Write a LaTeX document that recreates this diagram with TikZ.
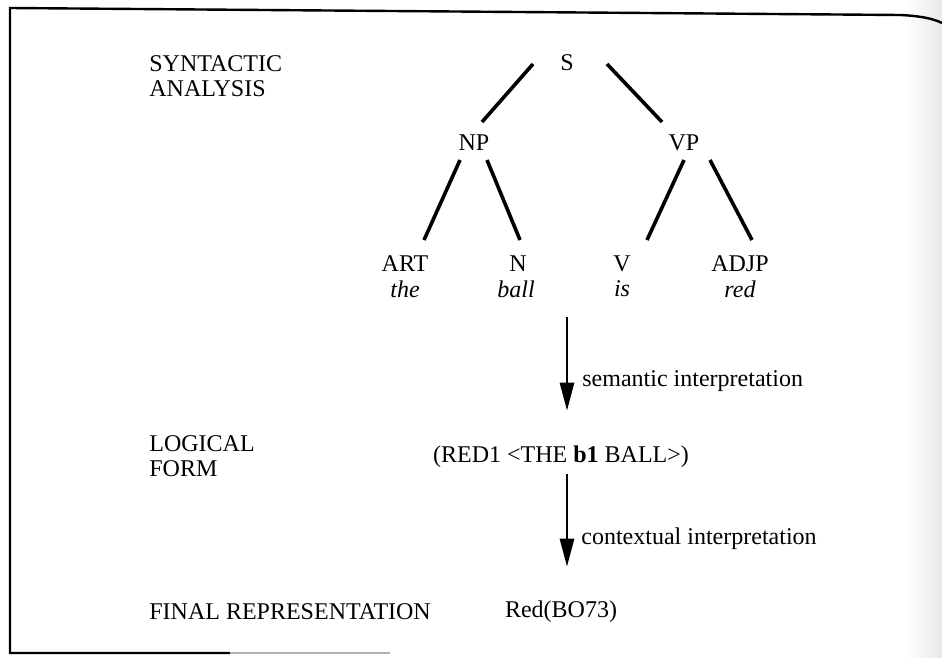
\documentclass[tikz,border=0pt]{standalone}
\usepackage{fontspec}
\setmainfont{Liberation Serif}
\usetikzlibrary{arrows.meta}
\tikzset{
  lbl/.style={font=\fontsize{24}{24.5}\selectfont, inner sep=0pt},
  branch/.style={line width=3.6pt},
}
\begin{document}
\begin{tikzpicture}[x=1pt,y=-1pt,>={Triangle[length=28pt,width=14pt]},line width=2.8pt]
		\useasboundingbox (0,0) rectangle (942,658);
		% page edge and frame
		\shade[left color=white,right color=gray!18] (905,0) rectangle (942,658);
		\draw[line width=2.4pt] (230,653) -- (10,653) -- (10,8) -- (900,15) .. controls (922,16) and (934,19) .. (942,23);
		\draw[line width=2.4pt,gray!60] (230,653) -- (390,653);
		% left column
		\node[lbl,anchor=west,align=left] (syn) at (148,76) {SYNTACTIC\\ANALYSIS};
		\node[lbl,anchor=west,align=left] (log) at (148,456) {LOGICAL\\FORM};
		\node[lbl,anchor=west] (fin) at (148,612) {FINAL REPRESENTATION};
		% tree
		\node[lbl] (S) at (567,63) {S};
		\node[lbl] (NP) at (474,143) {NP};
		\node[lbl] (VP) at (684,143) {VP};
		\node[lbl] (ART) at (405,264) {ART};
		\node[lbl] (N) at (518,264) {N};
		\node[lbl] (V) at (622,264) {V};
		\node[lbl] (ADJP) at (740,264) {ADJP};
		\node[lbl] (the) at (405,289) {\itshape the};
		\node[lbl] (ball) at (516,289) {\itshape ball};
		\node[lbl] (is) at (622,289) {\itshape is};
		\node[lbl] (red) at (740,289) {\itshape red};
		\foreach \a/\b/\sa/\sb in {S/NP/{-34,1}/{8,-21},S/VP/{40,1}/{-22,-21},
			NP/ART/{-14,17}/{19,-24},NP/N/{13,17}/{2,-24},
			VP/V/{0,17}/{25,-24},VP/ADJP/{26,17}/{12,-24}}
		\draw[branch] ([shift={(\sa)}]\a.center) -- ([shift={(\sb)}]\b.center);
		% representations
		\node[lbl] (lf) at (561,457) {(RED1 <THE \textbf{b1} BALL>)};
		\node[lbl] (kr) at (561,612) {Red(BO73)};
		\coordinate (a1) at (567,317);
		\draw[->,shorten >=34pt] (a1) -- (a1 |- lf.north) node[lbl,pos=0.5,anchor=west,xshift=14pt] (sem) {semantic interpretation};
		\draw[->,shorten <=5pt,shorten >=33pt] (a1 |- lf.south) -- (a1 |- kr.north) node[lbl,pos=0.53,anchor=west,xshift=13pt] (ctx) {contextual interpretation};
\end{tikzpicture}
\end{document}
